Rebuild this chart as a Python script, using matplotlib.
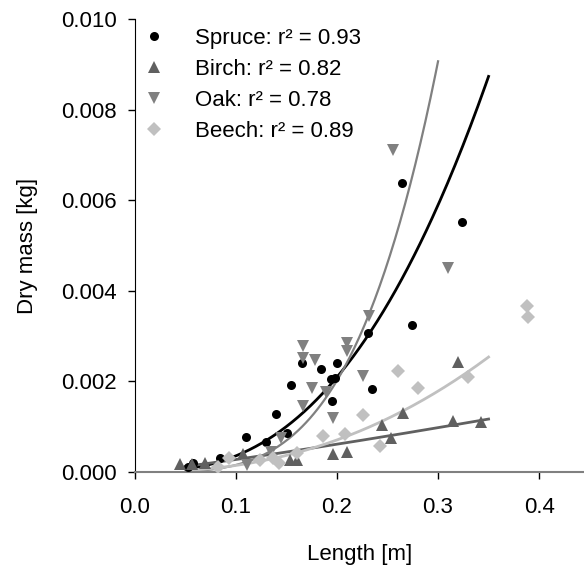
import numpy as np
import matplotlib
matplotlib.use('Agg')
import matplotlib.pyplot as plt
from matplotlib.lines import Line2D

plt.rcParams['font.family'] = ['Liberation Sans', 'DejaVu Sans']

# measured points: length [m], dry mass [kg]
spruce_len = [0.052, 0.057, 0.084, 0.110, 0.130, 0.140, 0.150, 0.154, 0.165, 0.184,
              0.194, 0.198, 0.195, 0.200, 0.231, 0.235, 0.264, 0.274, 0.324]
spruce_mass = [0.00010, 0.00020, 0.00030, 0.00077, 0.00066, 0.00128, 0.00086, 0.00192, 0.00240, 0.00228,
               0.00205, 0.00208, 0.00157, 0.00240, 0.00307, 0.00183, 0.00638, 0.00325, 0.00552]

birch_len = [0.045, 0.056, 0.069, 0.107, 0.153, 0.160, 0.196, 0.210, 0.245, 0.253,
             0.265, 0.315, 0.320, 0.343]
birch_mass = [0.00018, 0.00018, 0.00020, 0.00040, 0.00027, 0.00027, 0.00040, 0.00044, 0.00104, 0.00075,
              0.00130, 0.00113, 0.00243, 0.00110]

oak_len = [0.111, 0.135, 0.145, 0.166, 0.166, 0.166, 0.175, 0.178, 0.189, 0.196,
           0.210, 0.210, 0.226, 0.232, 0.255, 0.310]
oak_mass = [0.00015, 0.00045, 0.00075, 0.00146, 0.00252, 0.00278, 0.00185, 0.00247, 0.00177, 0.00119,
            0.00267, 0.00285, 0.00212, 0.00344, 0.00710, 0.00450]

beech_len = [0.082, 0.093, 0.124, 0.137, 0.143, 0.160, 0.186, 0.208, 0.226, 0.243,
             0.260, 0.280, 0.330, 0.388, 0.389]
beech_mass = [0.00010, 0.00030, 0.00027, 0.00030, 0.00020, 0.00043, 0.00080, 0.00085, 0.00126, 0.00057,
              0.00223, 0.00185, 0.00210, 0.00366, 0.00342]

# power-law trend lines  mass = a * length**b, drawn over [start, end]
spruce_fit = (0.127, 2.55, 0.05, 0.35)
birch_fit = (0.00391, 1.15, 0.05, 0.35)
oak_fit = (0.78, 3.7, 0.05, 0.30)
beech_fit = (0.0278, 2.28, 0.05, 0.35)

species = ['Spruce', 'Birch', 'Oak', 'Beech']
r2 = [0.93, 0.82, 0.78, 0.89]

fig = plt.figure(figsize=(5.84, 5.70), dpi=100)
ax = fig.add_axes([0.2312, 0.1719, 0.769, 0.7947])

series = [
    (spruce_len, spruce_mass, spruce_fit, 'o', 6.5, '#000000', 2.0),
    (birch_len, birch_mass, birch_fit, '^', 8, '#606060', 2.0),
    (oak_len, oak_mass, oak_fit, 'v', 8, '#808080', 1.6),
    (beech_len, beech_mass, beech_fit, 'D', 7, '#c0c0c0', 2.0),
]

handles = []
for (xs, ys, fit, mk, ms, col, lw), name, r in zip(series, species, r2):
    a, b, x0, x1 = fit
    xx = np.linspace(x0, x1, 200)
    ax.plot(xx, a * xx ** b, color=col, lw=lw, zorder=2)
    ax.plot(xs, ys, linestyle='none', marker=mk, markersize=ms, color=col,
            markeredgewidth=0, zorder=3)
    handles.append(Line2D([], [], linestyle='none', marker=mk, markersize=ms,
                          color=col, markeredgewidth=0,
                          label='%s: r\u00b2 = %.2f' % (name, r)))

ax.set_xlim(0, 0.4446)
ax.set_ylim(0, 0.010)
ax.set_xticks([0.0, 0.1, 0.2, 0.3, 0.4])
ax.set_xticklabels(['0.0', '0.1', '0.2', '0.3', '0.4'])
ax.set_yticks([0.000, 0.002, 0.004, 0.006, 0.008, 0.010])
ax.set_yticklabels(['0.000', '0.002', '0.004', '0.006', '0.008', '0.010'])

ax.spines['top'].set_visible(False)
ax.spines['right'].set_visible(False)
ax.spines['left'].set_color('#000000')
ax.spines['bottom'].set_color('#808080')
ax.spines['bottom'].set_linewidth(1.5)
ax.tick_params(axis='both', direction='out', length=5, width=1, labelsize=16)
ax.tick_params(axis='x', pad=13, color='#000000')
ax.tick_params(axis='y', pad=8)

ax.set_xlabel('Length [m]', fontsize=16, labelpad=19)
ax.set_ylabel('Dry mass [kg]', fontsize=16, labelpad=17)

ax.legend(handles=handles, loc='upper left', frameon=False, fontsize=16,
          handlelength=1.0, handletextpad=1.34, labelspacing=0.45,
          borderaxespad=0.0, bbox_to_anchor=(-0.003, 1.0))

fig.savefig('out.png', dpi=100)
